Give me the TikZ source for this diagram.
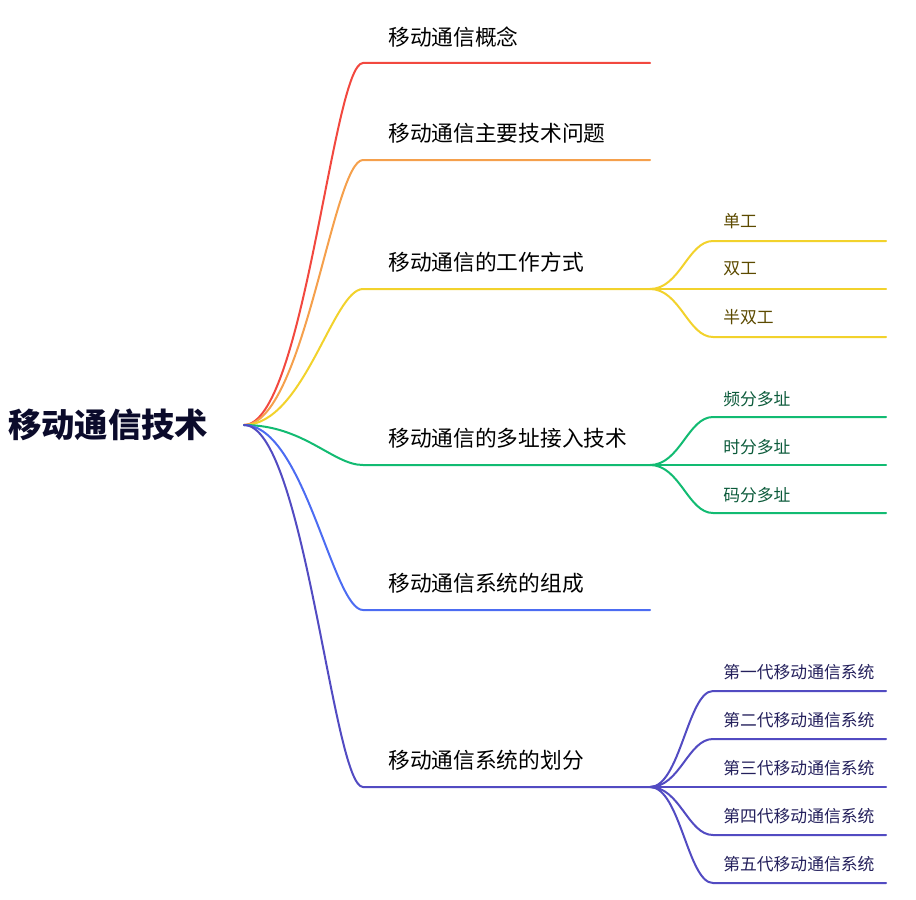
\documentclass[tikz,border=0pt]{standalone}
\usepackage{fontspec}
\setmainfont{Noto Sans CJK SC}
\usetikzlibrary{positioning}
\definecolor{MapRed}{HTML}{F2483F}
\definecolor{MapOrange}{HTML}{F5A04C}
\definecolor{MapYellow}{HTML}{F2D22C}
\definecolor{MapGreen}{HTML}{12BB72}
\definecolor{MapBlue}{HTML}{4C6CF2}
\definecolor{MapIndigo}{HTML}{524BC2}
\definecolor{RootInk}{HTML}{0B0B2B}
\definecolor{YellowInk}{HTML}{5C4A00}
\definecolor{GreenInk}{HTML}{0B5A3A}
\definecolor{IndigoInk}{HTML}{24205C}

\begin{document}
\begin{tikzpicture}[x=0.75pt,y=-0.75pt,
    root/.style={font=\fontsize{25}{30}\selectfont\bfseries,text=RootInk,
      anchor=west,inner sep=0pt},
    topic/.style={font=\fontsize{16.3}{20}\selectfont,anchor=west,inner sep=0pt},
    leaf/.style={font=\fontsize{12.6}{15}\selectfont,anchor=west,inner sep=0pt},
    branch/.style={line width=1.5pt,line cap=round}
  ]
  \useasboundingbox (0,0) rectangle (916,899);
  % root
  \node[root] (root) at (8,425) {移动通信技术};
  \coordinate (hub) at (244,425);
  % first level
  \node[topic] (t1) at (388,37) {移动通信概念};
  \node[topic] (t2) at (388,133) {移动通信主要技术问题};
  \node[topic] (t3) at (388,262) {移动通信的工作方式};
  \node[topic] (t4) at (388,438) {移动通信的多址接入技术};
  \node[topic] (t5) at (388,583) {移动通信系统的组成};
  \node[topic] (t6) at (388,760) {移动通信系统的划分};
  \foreach \i/\y in {1/63,2/160,3/289,4/465,5/610,6/787} {
    \coordinate (a\i) at (363,\y);
    \coordinate (b\i) at (650,\y);
  }
  \draw[branch,MapRed] (hub) .. controls +(60,0) and +(-30,0) .. (a1) -- (b1);
  \draw[branch,MapOrange] (hub) .. controls +(60,0) and +(-30,0) .. (a2) -- (b2);
  \draw[branch,MapYellow] (hub) .. controls +(60,0) and +(-30,0) .. (a3) -- (b3);
  \draw[branch,MapGreen] (hub) .. controls +(60,0) and +(-30,0) .. (a4) -- (b4);
  \draw[branch,MapBlue] (hub) .. controls +(60,0) and +(-30,0) .. (a5) -- (b5);
  \draw[branch,MapIndigo] (hub) .. controls +(60,0) and +(-30,0) .. (a6) -- (b6);
  % working modes
  \foreach \n/\y/\txt in {1/241/单工,2/289/双工,3/337/半双工} {
    \node[leaf,text=YellowInk] (w\n) at (723,\y-20) {\txt};
    \coordinate (wa\n) at (713,\y);
    \coordinate (wb\n) at (886,\y);
    \draw[branch,MapYellow] (b3) .. controls +(30,0) and +(-25,0) .. (wa\n) -- (wb\n);
  }
  % multiple access
  \foreach \n/\y/\txt in {1/417/频分多址,2/465/时分多址,3/513/码分多址} {
    \node[leaf,text=GreenInk] (m\n) at (723,\y-18) {\txt};
    \coordinate (ma\n) at (713,\y);
    \coordinate (mb\n) at (886,\y);
    \draw[branch,MapGreen] (b4) .. controls +(30,0) and +(-25,0) .. (ma\n) -- (mb\n);
  }
  % generations
  \foreach \n/\y/\txt in {1/691/第一代移动通信系统,2/739/第二代移动通信系统,
      3/787/第三代移动通信系统,4/835/第四代移动通信系统,5/883/第五代移动通信系统} {
    \node[leaf,text=IndigoInk] (g\n) at (723,\y-19) {\txt};
    \coordinate (ga\n) at (713,\y);
    \coordinate (gb\n) at (886,\y);
    \draw[branch,MapIndigo] (b6) .. controls +(30,0) and +(-25,0) .. (ga\n) -- (gb\n);
  }
\end{tikzpicture}
\end{document}
